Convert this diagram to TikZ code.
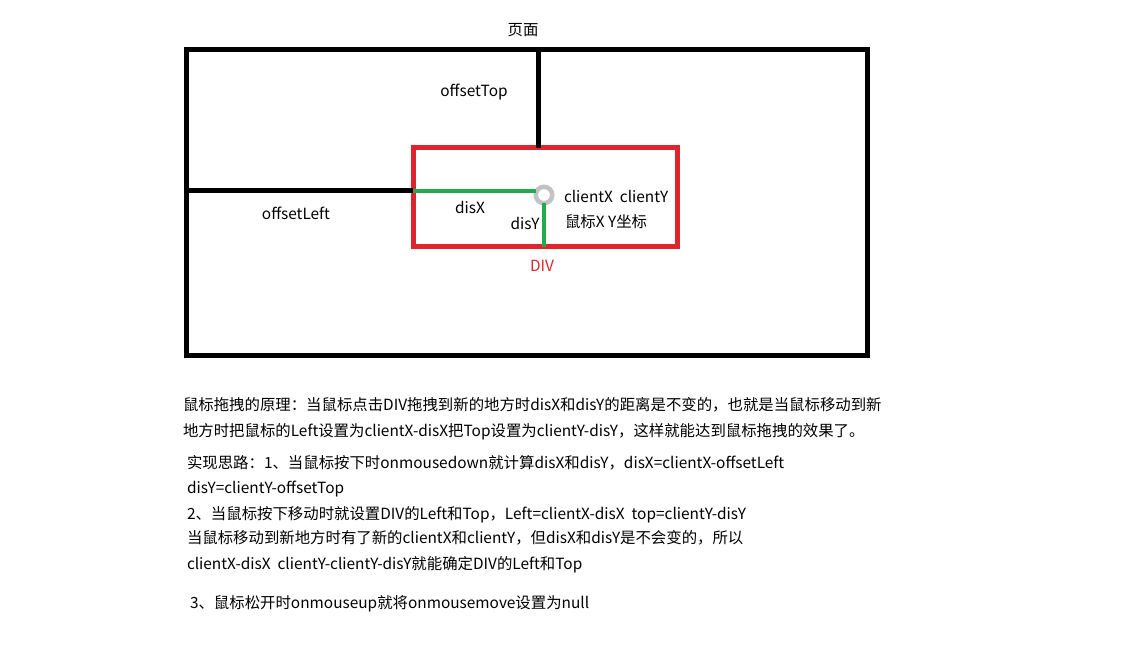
\documentclass[tikz,border=0pt]{standalone}
\usepackage{fontspec}
\setmainfont{Noto Sans CJK SC}
\definecolor{divred}{RGB}{222,36,44}
\definecolor{disgreen}{RGB}{34,170,76}
\definecolor{mousegray}{RGB}{195,195,195}
\begin{document}
\begin{tikzpicture}[x=1pt,y=-1pt]
\tikzset{ inner sep=0pt, outer sep=0pt,
  page/.style={draw=black, line width=5pt},
  divbox/.style={draw=divred, line width=5pt},
  disline/.style={draw=disgreen, line width=4.5pt},
  txt/.style={font=\fontsize{15.4}{18}\selectfont},
  note/.style={font=\fontsize{15.4}{18}\selectfont, anchor=west},
}
\useasboundingbox (0,0) rectangle (1142,660);

%\draw [lightgray, dashed](0,0) grid[step=50] (1142,660);

% page and div
\coordinate (PTL) at (186,50);
\coordinate (PBR) at (867,355);
\coordinate (DTL) at (413,148);
\coordinate (DBR) at (677,247);
\draw [page] (PTL) rectangle (PBR);
\draw [divbox] (DTL) rectangle (DBR);

% offsets
\coordinate (TopA) at (538,50);
\coordinate (TopB) at (538,148);
\coordinate (LeftA) at (186,191);
\coordinate (LeftB) at (413,191);
\draw [page] (TopA) -- (TopB);
\draw [page] (LeftA) -- (LeftB);

% mouse point and dis lines
\node [circle, draw=mousegray, line width=4.5pt, minimum size=16.5pt] (M) at (544,195) {};
\coordinate (DisXA) at (413,191);
\coordinate (DisYB) at (544,247);
\draw [disline] (DisXA) -- (DisXA -| M.west);
\draw [disline] (M.south) -- (DisYB);

\node [txt] (Page)  at (523,30)  {页面};
\node [txt] (OTop)  at (474,92)  {offsetTop};
\node [txt] (OLeft) at (296,213) {offsetLeft};
\node [txt] (DisX)  at (470,207) {disX};
\node [txt] (DisY)  at (525,223) {disY};
\node [note] (Cli)  at (564,196) {clientX\ \ clientY};
\node [note] (Mxy)  at (565,222) {鼠标X Y坐标};
\node [txt, text=divred] (Div) at (542,266) {DIV};

% explanation
\node [note] (N1) at (183,405) {鼠标拖拽的原理：当鼠标点击DIV拖拽到新的地方时disX和disY的距离是不变的，也就是当鼠标移动到新};
\node [note] (N2) at (183,432) {地方时把鼠标的Left设置为clientX-disX把Top设置为clientY-disY，这样就能达到鼠标拖拽的效果了。};
\node [note] (N3) at (187,463) {实现思路：1、当鼠标按下时onmousedown就计算disX和disY，disX=clientX-offsetLeft};
\node [note] (N4) at (187,489) {disY=clientY-offsetTop};
\node [note] (N5) at (187,515) {2、当鼠标按下移动时就设置DIV的Left和Top，Left=clientX-disX\ \ top=clientY-disY};
\node [note] (N6) at (187,538) {当鼠标移动到新地方时有了新的clientX和clientY，但disX和disY是不会变的，所以};
\node [note] (N7) at (187,565) {clientX-disX\ \ clientY-clientY-disY就能确定DIV的Left和Top};
\node [note] (N8) at (190,604) {3、鼠标松开时onmouseup就将onmousemove设置为null};
\end{tikzpicture}
\end{document}
